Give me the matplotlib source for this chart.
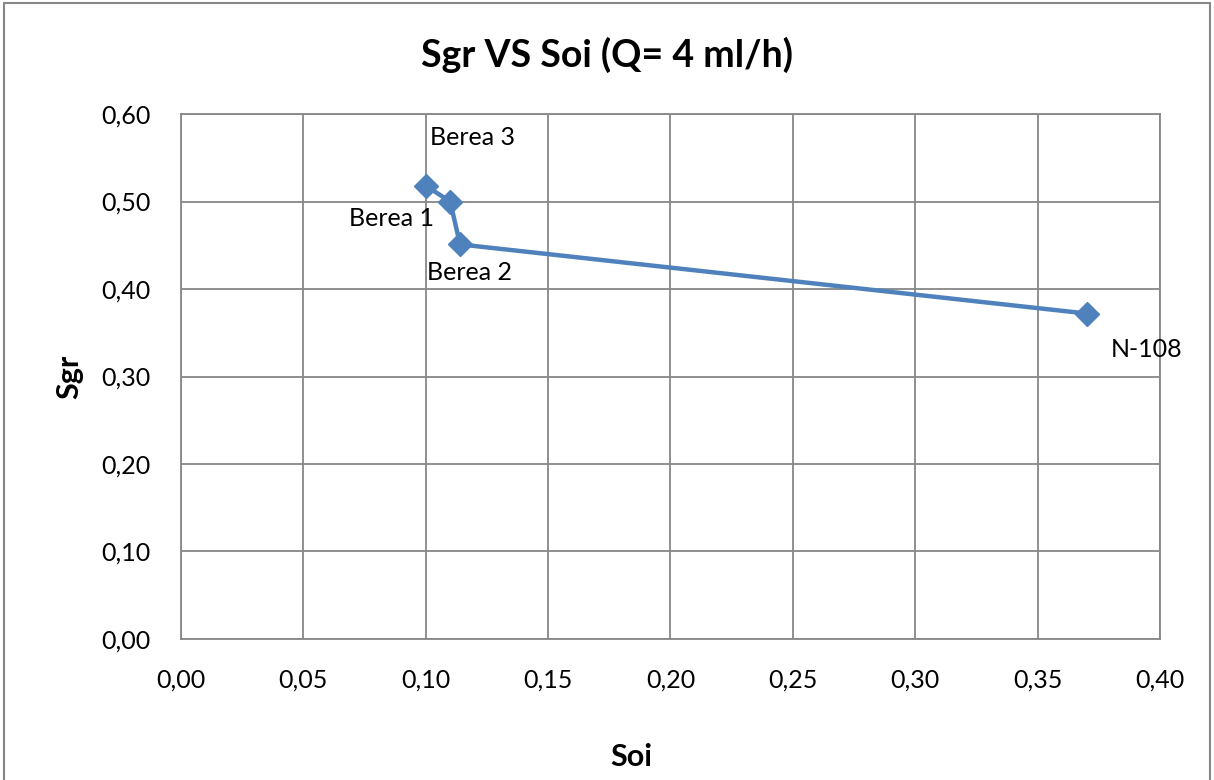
import matplotlib.pyplot as plt
from matplotlib.patches import Rectangle
from matplotlib.ticker import FuncFormatter

# data
samples = ['Berea 3', 'Berea 1', 'Berea 2', 'N-108']
soi = [0.100, 0.110, 0.114, 0.370]
sgr = [0.518, 0.500, 0.451, 0.372]
# label offsets in points (Excel-style label placement)
label_offsets = [(34, 35), (-42, -12), (7, -20), (43, -26)]

plt.rcParams['font.family'] = ['Lato', 'DejaVu Sans']

fig = plt.figure(figsize=(12.14, 7.80), dpi=100)
ax = fig.add_axes([0.1491, 0.1808, 0.8064, 0.673])

ax.plot(soi, sgr, color='#4F81BD', linewidth=3.2, marker='D', markersize=12,
        markerfacecolor='#4F81BD', markeredgecolor='#4F81BD', zorder=3)

for name, x, y, off in zip(samples, soi, sgr, label_offsets):
    ax.annotate(name, (x, y), xytext=off, textcoords='offset points',
                ha='center', va='center', fontsize=18, color='black')

ax.set_xlim(0, 0.40)
ax.set_ylim(0, 0.60)
ax.set_xticks([i * 0.05 for i in range(9)])
ax.set_yticks([i * 0.10 for i in range(7)])
comma = FuncFormatter(lambda v, p: f'{v:.2f}'.replace('.', ','))
ax.xaxis.set_major_formatter(comma)
ax.yaxis.set_major_formatter(comma)
ax.tick_params(axis='both', labelsize=18, length=0)
ax.tick_params(axis='x', pad=21)
ax.tick_params(axis='y', pad=22)

ax.grid(True, color='#878787', linewidth=1.3)
ax.set_axisbelow(True)
for s in ax.spines.values():
    s.set_color('#878787')
    s.set_linewidth(1.3)

# title is centred on the whole chart, not the plot area
fig.text(0.5, 0.93, 'Sgr VS Soi (Q= 4 ml/h)', fontsize=27, fontweight='bold',
         ha='center', va='center')
fig.text(0.52, 0.03, 'Soi', fontsize=22, fontweight='bold', ha='center', va='center')
ax.set_ylabel('Sgr', fontsize=22, fontweight='bold', labelpad=13)

# outer chart border
fig.patches.append(Rectangle((0.003, -0.01), 0.994, 1.006, transform=fig.transFigure,
                             fill=False, edgecolor='#878787', linewidth=1.5))

fig.savefig('out.png', dpi=100)
